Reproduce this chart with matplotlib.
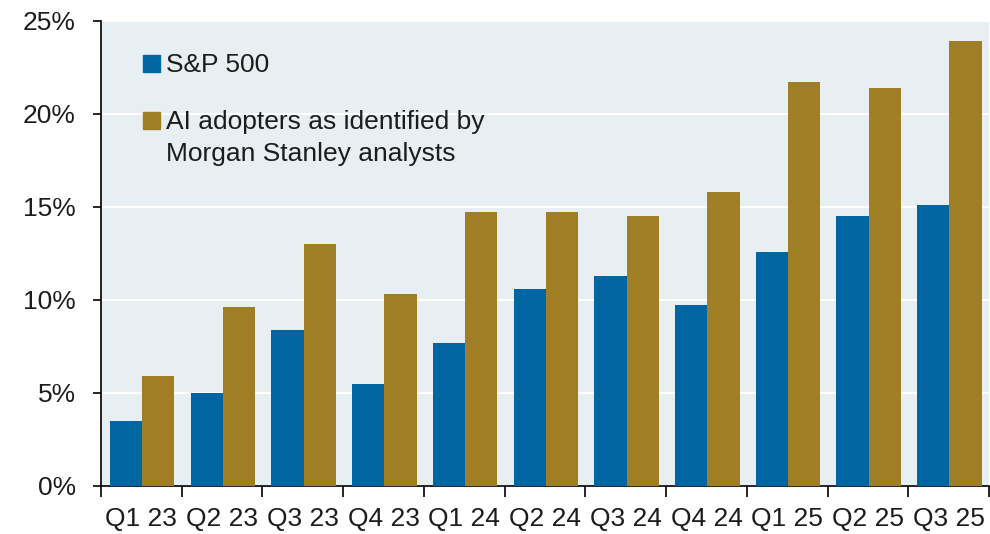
import numpy as np
import matplotlib.pyplot as plt
from matplotlib.patches import Rectangle

plt.rcParams['font.family'] = ['Liberation Sans', 'DejaVu Sans']

quarters = ["Q1 23", "Q2 23", "Q3 23", "Q4 23", "Q1 24", "Q2 24",
            "Q3 24", "Q4 24", "Q1 25", "Q2 25", "Q3 25"]
sp500 = [3.5, 5.0, 8.4, 5.5, 7.7, 10.6, 11.3, 9.7, 12.6, 14.5, 15.1]
ai_adopters = [5.9, 9.6, 13.0, 10.3, 14.7, 14.7, 14.5, 15.8, 21.7, 21.4, 23.9]

blue = '#0066A1'
gold = '#A07E26'
bg = '#E7EFF3'
txt = '#1c1c1c'

x = np.arange(len(quarters))
width = 0.4

fig = plt.figure(figsize=(9.9, 5.34), dpi=100)
ax = fig.add_axes([0.102, 0.09, 0.897, 0.871])
ax.set_facecolor(bg)

ax.bar(x - 0.19, sp500, width, color=blue, zorder=3)
ax.bar(x + 0.21, ai_adopters, width, color=gold, zorder=3)

ax.set_xlim(-0.5, len(quarters) - 0.5)
ax.set_ylim(0, 25)
ax.set_yticks([0, 5, 10, 15, 20, 25])
ax.set_yticklabels([f"{v}%" for v in [0, 5, 10, 15, 20, 25]])
ax.yaxis.grid(True, color='white', linewidth=1.5, zorder=1)
ax.set_axisbelow(True)

# ticks between groups, labels at group centres
ax.set_xticks(np.arange(len(quarters) + 1) - 0.5)
ax.set_xticklabels([])
ax.set_xticks(x, minor=True)
ax.set_xticklabels(quarters, minor=True)
ax.tick_params(axis='x', which='major', length=8, width=1.2, color='black')
ax.tick_params(axis='x', which='minor', length=0, pad=15, labelsize=19, labelcolor=txt)
ax.tick_params(axis='y', length=6, width=1.2, color='black', pad=12,
               labelsize=19, labelcolor=txt)

for s in ['top', 'right']:
    ax.spines[s].set_visible(False)
for s in ['left', 'bottom']:
    ax.spines[s].set_color('black')
    ax.spines[s].set_linewidth(1.2)

# legend drawn by hand: square swatches with labels
sq_w, sq_h = 0.0195, 0.0355
ax.add_patch(Rectangle((0.0473, 0.8903), sq_w, sq_h, color=blue,
                       transform=ax.transAxes, zorder=5))
ax.text(0.0732, 0.8903, "S&P 500", transform=ax.transAxes, va='baseline',
        ha='left', fontsize=19, color=txt)
ax.add_patch(Rectangle((0.0473, 0.7677), sq_w, sq_h, color=gold,
                       transform=ax.transAxes, zorder=5))
ax.text(0.0732, 0.7677, "AI adopters as identified by", transform=ax.transAxes,
        va='baseline', ha='left', fontsize=19, color=txt)
ax.text(0.0732, 0.6989, "Morgan Stanley analysts", transform=ax.transAxes,
        va='baseline', ha='left', fontsize=19, color=txt)

fig.savefig('out.png', dpi=100)
